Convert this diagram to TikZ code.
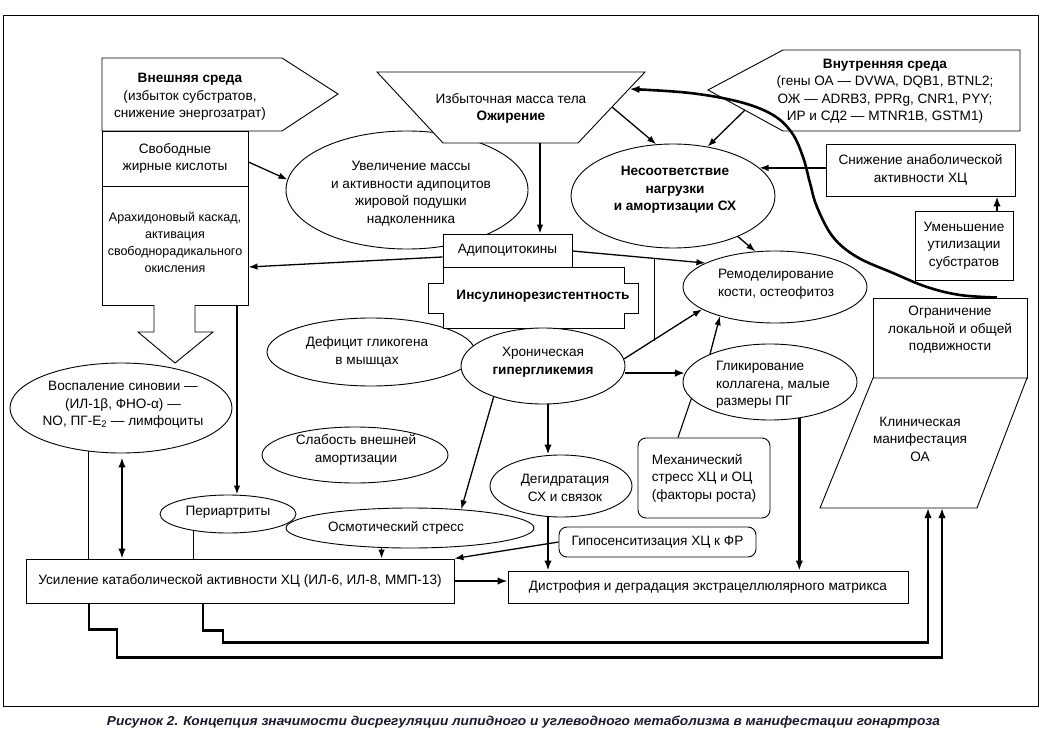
\documentclass[tikz,border=0pt]{standalone}
\usepackage{fontspec}
\setmainfont{Liberation Sans}
\usetikzlibrary{arrows.meta,shapes.geometric}
\definecolor{capcol}{rgb}{0.1,0.1,0.18}
\begin{document}
\begin{tikzpicture}[x=1pt,y=-1pt,
  every node/.style={font=\fontsize{13.6}{17.5}\selectfont, inner sep=0pt},
  box/.style={draw, line width=0.9pt, fill=white},
  rbox/.style={box, rounded corners=8pt},
  ell/.style={ellipse, draw, line width=0.9pt, fill=white},
  txt/.style={align=center},
  hb/.style={font=\fontsize{13.6}{17.5}\selectfont\bfseries},
  ln/.style={line width=0.9pt},
  arr/.style={line width=1.3pt, -{Latex[length=9pt,width=6.5pt]}},
  tarr/.style={line width=2.6pt, -{Latex[length=10pt,width=7.5pt]}},
  darr/.style={line width=2.6pt, {Latex[length=10pt,width=7.5pt]}-{Latex[length=10pt,width=7.5pt]}},
  fb/.style={line width=2.8pt, -{Latex[length=10pt,width=7.5pt]}}
]
\useasboundingbox (0,0) rectangle (1041,733);
\draw[ln] (3,15) rectangle (1038,706);

% --- top left
\node[ell, minimum width=242pt, minimum height=118pt] (uvel) at (407,190) {};
\node[txt] (uvelT) at (411,193.5) {Увеличение массы\\и активности адипоцитов\\жировой подушки\\надколенника};

\draw[box] (102,58) -- (282,58) -- (338,94) -- (282,131) -- (102,131) -- cycle;
\node[txt] (vneshT) at (190,97) {\textbf{Внешняя среда}\\(избыток субстратов,\\снижение энергозатрат)};
\node[box, minimum width=146pt, minimum height=55pt, align=center] (svob) at (175,158.5) {Свободные\\жирные кислоты};
\node[box, minimum width=146pt, minimum height=119pt] (arah) at (175,245.5) {};
\node[txt, font=\fontsize{12.5}{17}\selectfont] (arahT) at (175,242) {Арахидоновый каскад,\\активация\\свободнорадикального\\окисления};
\draw[box] (154,305) -- (154,332) -- (138,332) -- (175,363) -- (213,332) -- (195,332) -- (195,305);

% --- top middle / right
\draw[box] (377,72) -- (645,72) -- (578,143) -- (443,143) -- cycle;
\node[txt] (trapT) at (511,108.5) {Избыточная масса тела\\\textbf{Ожирение}};
\coordinate (trapS) at (540,143);
\coordinate (trapR1) at (612,107);
\coordinate (trapR2) at (629.5,89);

\draw[box] (708,90) -- (783,50) -- (1020,50) -- (1020,131) -- (783,131) -- cycle;
\node[txt] (internT) at (885,91) {\textbf{Внутренняя среда}\\(гены ОА — DVWA, DQB1, BTNL2;\\ОЖ — ADRB3, PPRg, CNR1, PYY;\\ИР и СД2 — MTNR1B, GSTM1)};
\coordinate (internE) at (745,110);

\node[ell, minimum width=204pt, minimum height=104pt] (nesoot) at (673,196) {};
\node[txt, hb] (nesootT) at (675,190) {Несоответствие\\нагрузки\\и амортизации СХ};

\node[box, minimum width=189pt, minimum height=52pt, align=center] (snizh) at (920.5,170) {Снижение анаболической\\активности ХЦ};
\node[box, minimum width=98pt, minimum height=69pt, align=center] (umen) at (964,245.5) {Уменьшение\\утилизации\\субстратов};
\node[box, minimum width=154pt, minimum height=80pt] (ogran) at (950,338) {};
\node[txt] (ogranT) at (950,330) {Ограничение\\локальной и общей\\подвижности};
\draw[box] (873,378) -- (1027,378) -- (977,508) -- (820,508) -- cycle;
\node[txt] (klinT) at (920,439) {Клиническая\\манифестация\\ОА};
\coordinate (klinA) at (942,508);
\coordinate (klinB) at (928,508);

% --- middle
\node[box, minimum width=129pt, minimum height=33pt] (adipo) at (507.5,250.5) {Адипоцитокины};
\node[ell, minimum width=208pt, minimum height=68pt] (defic) at (371,352) {};
\node[txt] (deficT) at (367,352) {Дефицит гликогена\\в мышцах};
\draw[box] (443,267) -- (624,267) -- (624,283) -- (638,283) -- (638,313) -- (624,313) -- (624,328)
  -- (443,328) -- (443,313) -- (428,313) -- (428,283) -- (443,283) -- cycle;
\node[hb] (insulT) at (543,296) {Инсулинорезистентность};
\node[ell, minimum width=164pt, minimum height=76pt] (hron) at (543,366) {};
\node[txt] (hronT) at (543,362) {Хроническая\\\textbf{гипергликемия}};
\node[ell, minimum width=184pt, minimum height=72pt] (remod) at (775,287) {};
\node[txt] (remodT) at (776,284) {Ремоделирование\\кости, остеофитоз};
\node[ell, minimum width=174pt, minimum height=76pt] (glik) at (770,382) {};
\node[align=left] (glikT) at (773,385) {Гликирование\\коллагена, малые\\размеры ПГ};
\node[ell, minimum width=186pt, minimum height=56pt] (slab) at (355,455) {};
\node[txt] (slabT) at (356,450) {Слабость внешней\\амортизации};
\node[ell, minimum width=142pt, minimum height=62pt] (degid) at (561,486) {};
\node[txt] (degidT) at (565,488) {Дегидратация\\СХ и связок};
\node[rbox, minimum width=132pt, minimum height=80pt, align=left] (mech) at (704,478) {Механический\\стресс ХЦ и ОЦ\\(факторы роста)};

% --- lower left
\node[ell, minimum width=222pt, minimum height=90pt] (vospal) at (121,408) {};
\node[txt] (vospalT) at (123,405) {Воспаление синовии —\\(ИЛ-1β, ФНО-α) —\\NO, ПГ-E\textsubscript{2} — лимфоциты};
\node[ell, minimum width=136pt, minimum height=38pt] (peri) at (228,514) {};
\node (periT) at (228,512) {Периартриты};
\node[ell, minimum width=248pt, minimum height=40pt] (osm) at (410,528) {};
\node (osmT) at (396,528) {Осмотический стресс};
\node[rbox, minimum width=197pt, minimum height=30pt] (gipo) at (657.5,542) {Гипосенситизация ХЦ к ФР};
\node[box, minimum width=428pt, minimum height=44pt] (usil) at (240,581) {Усиление катаболической активности ХЦ (ИЛ-6, ИЛ-8, ММП-13)};
\node[box, minimum width=400pt, minimum height=32pt] (distr) at (708,587) {Дистрофия и деградация экстрацеллюлярного матрикса};

% --- connectors
\draw[arr] ([yshift=-3.5pt]svob.east) -- (uvel.175.2);
\draw[arr] (trapS) -- (trapS |- adipo.north);
\draw[arr] (trapR1) -- (nesoot.108);
\draw[arr] (internE) -- (nesoot.55.5);
\draw[arr] ([yshift=-6.5pt]adipo.west) -- ([yshift=-21.5pt]arah.east);
\draw[arr] ([yshift=-0.5pt]adipo.east) -- coordinate[pos=0.615] (j1) (remod.161.8);
\draw[arr] (hron.5) -- coordinate[pos=0.36] (j2) (remod.197);
\draw[ln] (j1) -- (j1 |- j2);
\draw[tarr] (glik.174 -| hron.east) -- (glik.174);
\draw[tarr] ([xshift=5pt]hron.south) -- ([xshift=5pt]hron.south |- degid.north);
\draw[arr] (hron.212) -- (osm.20.6);
\draw[tarr] ([xshift=-13pt]degid.south) -- ([xshift=-13pt]degid.south |- distr.north);
\draw[arr] (glik.155.6) -- (remod.208.5);
\draw[ln, line width=1.1pt] ([xshift=-26pt]mech.north) -- (glik.192.7);
\draw[tarr] (glik.309) -- (glik.309 |- distr.north);
\draw[arr] (nesoot.328) -- (remod.119.7);
\draw[arr] (nesoot.18.8 -| snizh.west) -- (nesoot.18.8);
\draw[tarr, line width=2pt] ([xshift=33pt]umen.north) -- ([xshift=33pt]umen.north |- snizh.south);
\coordinate (cs) at ([xshift=47pt]ogran.north);
\draw[tarr] plot[smooth, tension=0.6] coordinates {(cs) (960,295) (927,287) (893,273) (857,257) (833,237) (817,207) (810,183) (803,157) (792,133) (773,115) (740,102) (690,93) (trapR2)};

\draw[ln] (vospal.233.4) -- (vospal.233.4 |- usil.north);
\draw[darr] ([xshift=1pt,yshift=-4pt]vospal.south) -- ([xshift=1pt]vospal.south |- usil.north);
\draw[ln] (peri.206.7) -- (peri.206.7 |- usil.north);
\draw[arr, line width=1.8pt] ([xshift=62pt]arah.south) -- ([xshift=62pt]arah.south |- peri.north);
\draw[arr] (osm.215.8) -- (osm.215.8 |- usil.north);
\draw[arr] (gipo.west) -- (usil.north east);
\draw[tarr] (usil.east) -- (usil.east -| distr.west);
\draw[fb] ([xshift=-151pt]usil.south) -- ++(0,26) -- ++(28,0) -- ++(0,28) -| (klinA);
\draw[fb] ([xshift=-37pt]usil.south) -- ++(0,27) -- ++(20,0) -- ++(0,12) -| (klinB);

% --- caption
\node[text=capcol] (cap) at (523.5,722) {\resizebox{833pt}{9.5pt}{\fontsize{11}{13}\selectfont\bfseries\itshape Рисунок 2. Концепция значимости дисрегуляции липидного и углеводного метаболизма в манифестации гонартроза}};
\end{tikzpicture}
\end{document}
